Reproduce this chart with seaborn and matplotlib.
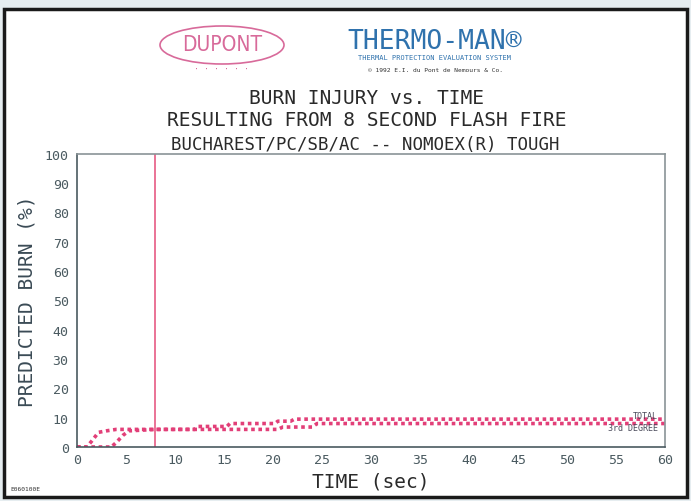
import matplotlib
matplotlib.use("Agg")
import matplotlib.pyplot as plt
from matplotlib.patches import Ellipse, Rectangle
import pandas as pd
import seaborn as sns

# burn curves (time in s, predicted burn in %)
total_time = [0, 1.0, 1.5, 2.2, 3.0, 4.0, 12.0, 12.3, 15.3, 15.6, 20.2, 20.5, 21.8, 22.2, 60]
total_burn = [0, 0, 2.0, 5.0, 5.5, 6.0, 6.0, 7.0, 7.0, 8.0, 8.0, 8.8, 8.8, 9.5, 9.5]

third_time = [0, 3.5, 4.0, 4.7, 5.3, 8.0, 20.5, 21.0, 24.0, 24.5, 60]
third_burn = [0, 0, 1.5, 4.0, 5.5, 6.0, 6.0, 6.8, 6.8, 8.0, 8.0]

fire_end = 8  # flash fire duration (s)

x_ticks = list(range(0, 61, 5))
y_ticks = list(range(0, 101, 10))

df = pd.concat([
    pd.DataFrame({"time": total_time, "burn": total_burn, "series": "TOTAL"}),
    pd.DataFrame({"time": third_time, "burn": third_burn, "series": "3rd DEGREE"}),
])

sns.set_theme(style="white")
plt.rcParams["font.family"] = ["DejaVu Sans Mono", "DejaVu Sans"]

pink = "#e23f78"
grey = "#4a5a60"
blue = "#2f72ad"

fig = plt.figure(figsize=(6.91, 5.02), dpi=100)
fig.patch.set_facecolor("#e6edf0")
fig.patches.append(Rectangle((0.006, 0.008), 0.988, 0.972, transform=fig.transFigure,
                             facecolor="white", edgecolor="#1a1a1a", linewidth=2.5, zorder=-1))

ax = fig.add_axes([0.1114, 0.1076, 0.851, 0.584])
ax.set_facecolor("white")

for name, grp in df.groupby("series", sort=False):
    sns.lineplot(data=grp, x="time", y="burn", ax=ax, color=pink, linewidth=2.6,
                 linestyle=(0, (1, 1)), estimator=None, sort=False, legend=False)

ax.axvline(fire_end, color="#e8688e", linewidth=1.3)

ax.set_xlim(0, 60)
ax.set_ylim(0, 100)
ax.set_xticks(x_ticks)
ax.set_yticks(y_ticks)
ax.tick_params(direction="in", length=5, width=1.2, colors=grey, labelsize=9.5, pad=4)
ax.tick_params(axis="y", pad=6)
for s in ax.spines.values():
    s.set_color("#8a9497")
    s.set_linewidth(1.2)
ax.spines["left"].set_color(grey)
ax.spines["bottom"].set_color(grey)

ax.set_xlabel("TIME (sec)", fontsize=14, color="#2a2a2a", labelpad=4)
ax.set_ylabel("PREDICTED BURN (%)", fontsize=14, color="#3a4a55", labelpad=6)

ax.text(59.3, 9.2, "TOTAL", ha="right", va="bottom", fontsize=6, color="#4a4a5a")
ax.text(59.3, 5.2, "3rd DEGREE", ha="right", va="bottom", fontsize=6, color="#4a4a5a")

# header
fig.patches.append(Ellipse((222 / 691, 1 - 46 / 502), 124 / 691, 38 / 502, transform=fig.transFigure,
                           facecolor="none", edgecolor="#d86a9a", linewidth=1.2))
fig.text(222 / 691, 1 - 45 / 502, "DUPONT", ha="center", va="center", fontsize=15,
         color="#d86a9a", family="DejaVu Sans Condensed", fontstretch="condensed")
fig.text(222 / 691, 1 - 69 / 502, "· · · · · ·", ha="center", va="center", fontsize=6, color="#d86a9a")

fig.text(435 / 691, 1 - 42 / 502, "THERMO-MAN®", ha="center", va="center", fontsize=19, color=blue)
fig.text(435 / 691, 1 - 58 / 502, "THERMAL PROTECTION EVALUATION SYSTEM", ha="center", va="center",
         fontsize=5, color=blue)
fig.text(435 / 691, 1 - 70 / 502, "© 1992 E.I. du Pont de Nemours & Co.", ha="center", va="center",
         fontsize=4.5, color="#333333")

fig.text(367 / 691, 1 - 98 / 502, "BURN INJURY vs. TIME", ha="center", va="center", fontsize=14,
         color="#2a2a2a")
fig.text(367 / 691, 1 - 120 / 502, "RESULTING FROM 8 SECOND FLASH FIRE", ha="center", va="center",
         fontsize=14, color="#2a2a2a")
fig.text(365 / 691, 1 - 145 / 502, "BUCHAREST/PC/SB/AC -- NOMOEX(R) TOUGH", ha="center", va="center",
         fontsize=12.5, color="#2a2a2a")

fig.text(10 / 691, 1 - 490 / 502, "E060100E", ha="left", va="center", fontsize=4.5, color="#333333")

fig.savefig("out.png", dpi=100)
